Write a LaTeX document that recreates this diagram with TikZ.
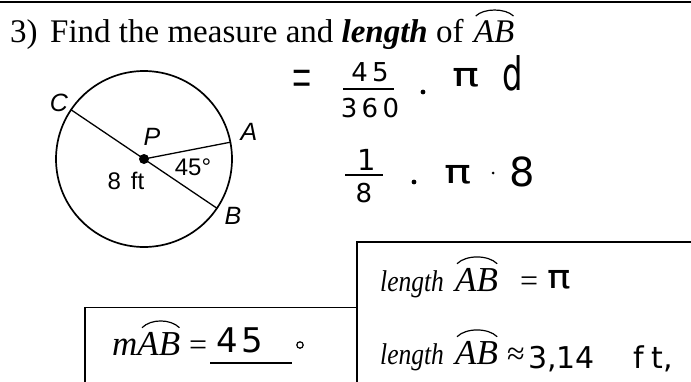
\documentclass[tikz,border=0pt]{standalone}
\usepackage{fontspec}
\usepackage{graphicx}
\setmainfont{Liberation Serif}
\newfontfamily\lab{Liberation Sans}
\newfontfamily\hand{DejaVu Sans}
\newfontfamily\boxfont{Liberation Serif}[FakeStretch=0.85]
\usetikzlibrary{calc}
\newcommand{\hpi}[1]{\scalebox{#1}[1.1]{π}}
\tikzset{
  ttl/.style={anchor=base west, inner sep=0pt, font=\fontsize{33}{36}\selectfont},
  lbl/.style={inner sep=0pt, font=\lab\fontsize{24}{28}\selectfont},
  lblit/.style={inner sep=0pt, font=\lab\itshape\fontsize{25}{28}\selectfont},
  hw/.style={inner sep=0pt, font=\hand\fontsize{26}{30}\selectfont},
  hwb/.style={inner sep=0pt, font=\hand\fontsize{30}{34}\selectfont},
  boxtxt/.style={anchor=base west, inner sep=0pt, font=\boxfont\itshape\fontsize{30}{34}\selectfont},
  abtxt/.style={anchor=base west, inner sep=0pt, font=\itshape\fontsize{35}{38}\selectfont},
  eqtxt/.style={anchor=base west, inner sep=0pt, font=\fontsize{32}{36}\selectfont},
  arcline/.style={line width=1.2pt},
  frame/.style={line width=1.5pt},
}
\begin{document}
\begin{tikzpicture}[x=1pt,y=-1pt]
\useasboundingbox (0,0) rectangle (691,381);
\fill[white] (0,0) rectangle (691,381);
% top rule
\coordinate (tl) at (0,1.5);
\coordinate (tr) at (691,1.5);
\draw[line width=2pt] (tl) -- (tr);
% title
\node[ttl] (t1) at (10,42) {3)};
\node[ttl] (t2) at (50,42) {Find the measure and \textbf{\textit{length}} of};
\node[ttl, font=\itshape\fontsize{33}{36}\selectfont] (tab) at ([xshift=10pt]t2.base east) {AB};
\draw[arcline] ([xshift=2pt,yshift=4pt]tab.north west) .. controls +(8pt,8pt) and +(-8pt,8pt) .. ([xshift=-1pt,yshift=4pt]tab.north east);
% circle
\coordinate (P) at (144,159);
\coordinate (A) at (230.4,142.2);
\coordinate (B) at (216.9,208.2);
\coordinate (C) at (71.1,109.8);
\draw[line width=1.7pt] (P) circle (88);
\draw[line width=1.3pt] (C) -- (P) -- (B);
\draw[line width=1.3pt] (P) -- (A);
\fill (P) circle (5);
\node[lblit] (lC) at (59,103) {C};
\node[lblit] (lP) at (152,137) {P};
\node[lblit] (lA) at (249,132) {A};
\node[lblit] (lB) at (233,216) {B};
\node[lbl] (ang) at (193,167) {45°};
\node[lbl] (dia) at (126,181) {8\hspace{10pt}ft};
% handwritten work
\node[inner sep=0pt, font=\fontsize{40}{44}\selectfont] (heq) at (302,85) {\scalebox{0.85}[1.6]{=}};
\node[hw] (h45) at (370,72) {4\,5};
\coordinate (f1l) at (343,89);
\coordinate (f1r) at (394,89);
\draw[line width=1.2pt] (f1l) -- (f1r);
\node[hw] (h360) at (370,108) {3\,6\,0};
\fill (423,92) circle (2.4);
\node[hwb] (hpi1) at (466,78) {\hpi{1.5}};
\node[hw, font=\hand\fontsize{46}{50}\selectfont] (hd) at (513,73) {\scalebox{0.7}[1]{d}};
\node[hw, font=\hand\fontsize{29}{32}\selectfont] (h1) at (367,160) {1};
\coordinate (f2l) at (345,175);
\coordinate (f2r) at (383,175);
\draw[line width=1.6pt] (f2l) -- (f2r);
\node[hw] (h8a) at (364,193) {8};
\fill (414,182) circle (2.4);
\node[hwb] (hpi2) at (458,175) {\hpi{1.5}};
\fill (493,173) circle (1.5);
\node[hw, font=\hand\fontsize{40}{44}\selectfont] (h8b) at (522,172) {8};
% boxes
\coordinate (b1) at (357,392);
\coordinate (b2) at (357,242);
\coordinate (b3) at (700,242);
\draw[frame] (b1) -- (b2) -- (b3);
\coordinate (c1) at (85,392);
\coordinate (c2) at (85,307.5);
\coordinate (c3) at (357,307.5);
\draw[frame] (c1) -- (c2) -- (c3);
% right box row 1
\node[boxtxt] (len1) at (380,291) {length};
\node[abtxt] (ab1) at (455,291) {AB};
\draw[arcline] ([xshift=2pt,yshift=4pt]ab1.north west) .. controls +(9pt,9pt) and +(-9pt,9pt) .. ([xshift=-1pt,yshift=4pt]ab1.north east);
\node[eqtxt] (eq1) at (520,291) {=};
\node[hwb] (pi3) at (559,280) {\hpi{1.3}};
% right box row 2
\node[boxtxt] (len2) at (380,364) {length};
\node[abtxt] (ab2) at (455,364) {AB};
\draw[arcline] ([xshift=2pt,yshift=4pt]ab2.north west) .. controls +(9pt,9pt) and +(-9pt,9pt) .. ([xshift=-1pt,yshift=4pt]ab2.north east);
\node[eqtxt] (ap2) at (507,364) {≈};
\node[hwb, anchor=base west] (v314) at (528,368) {3,14};
\node[hwb, anchor=base west] (ft) at (633,368) {f\hspace{8pt}t,};
% left box
\node[abtxt] (mab) at (112,355) {mAB};
\draw[arcline] ([xshift=30pt,yshift=4pt]mab.north west) .. controls +(9pt,9pt) and +(-9pt,9pt) .. ([xshift=-1pt,yshift=4pt]mab.north east);
\node[eqtxt] (eq3) at (189,355) {=};
\node[hw, font=\hand\fontsize{34}{38}\selectfont] (v45) at (240,340) {4\hspace{3pt}5};
\coordinate (u1) at (210,363);
\coordinate (u2) at (292,363);
\draw[line width=1.2pt] (u1) -- (u2);
\draw[line width=1.2pt] (300,345) circle (3.2);
\end{tikzpicture}
\end{document}
